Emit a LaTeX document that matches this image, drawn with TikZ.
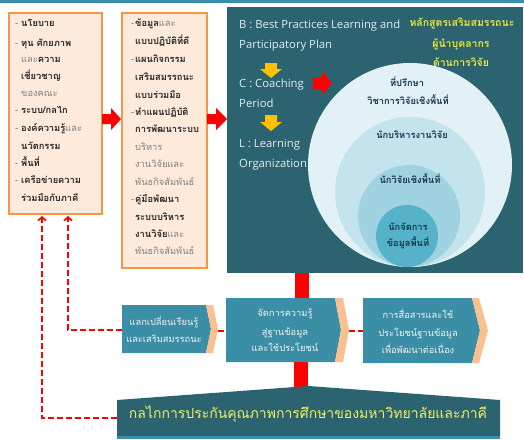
\documentclass[tikz,border=0pt]{standalone}
\usepackage{fontspec}
\setmainfont{Open Sans}
\newfontfamily\thai[Script=Thai]{Loma}
\usetikzlibrary{arrows.meta}
\definecolor{panelc}{HTML}{2B6370}
\definecolor{chevc}{HTML}{3A8EA5}
\definecolor{peach}{HTML}{FAC090}
\definecolor{boxfill}{HTML}{FDEADA}
\definecolor{boxline}{HTML}{F79646}
\definecolor{dk}{HTML}{262626}
\definecolor{lt}{HTML}{808080}
\definecolor{ylw}{HTML}{E8E83A}
\definecolor{ylwb}{HTML}{F2F25C}
\definecolor{latc}{HTML}{E4ECEE}
\definecolor{arry}{HTML}{FFC000}
\definecolor{cira}{HTML}{E2F1F5}
\definecolor{cirb}{HTML}{C3E4ED}
\definecolor{circ}{HTML}{9FD3E1}
\definecolor{cird}{HTML}{55B2C9}
\definecolor{navy}{HTML}{1B3550}
\definecolor{chtxt}{HTML}{F2F2F2}
\newcommand\dkt[1]{{\bfseries\color{dk}#1}}
\newcommand\ltt[1]{{\color{lt}#1}}
\newcommand\dsh[1]{\makebox[#1pt][l]{\ltt{-}}}
\begin{document}
\begin{tikzpicture}[x=1pt,y=-1pt,
  thl/.style={anchor=base west,inner sep=0,font=\thai\fontsize{9.3}{11}\selectfont},
  lat/.style={anchor=base west,inner sep=0,text=latc,font=\fontsize{11.3}{13}\selectfont},
  ylt/.style={anchor=base,inner sep=0,text=ylw,font=\thai\bfseries\fontsize{10.5}{12}\selectfont},
  cit/.style={anchor=base,inner sep=0,text=navy,font=\thai\bfseries\fontsize{9.3}{11}\selectfont},
  cht/.style={anchor=base,inner sep=0,text=chtxt,font=\thai\fontsize{9.3}{11}\selectfont},
  pbox/.style={draw=boxline,fill=boxfill,line width=1.6pt,anchor=north west,inner sep=0},
  circ/.style={circle,inner sep=0},
  dashr/.style={draw=red,line width=1.7pt,dash pattern=on 6pt off 3pt},
  redbar/.style={draw=red,line width=14pt}]
\useasboundingbox (0,0) rectangle (524,439);
\fill[chevc] (0,0) rectangle (524,3);

% boxes
\node[pbox,minimum width=93,minimum height=201] (L) at (8,12) {};
\node[pbox,minimum width=85,minimum height=255] (M) at (121,12) {};
\node[fill=panelc,anchor=north west,inner sep=0,minimum width=296,minimum height=266] (P) at (227,7) {};

% left box text
\node[thl] (l1) at (15,27) {\dsh{6}\dkt{นโยบาย}};
\node[thl] (l2) at (15,46) {\dsh{6}\dkt{ทุน ศักยภาพ}};
\node[thl] (l3) at (21,62) {\ltt{และ}\dkt{ความ}};
\node[thl] (l4) at (21,79) {\dkt{เชี่ยวชาญ}};
\node[thl] (l5) at (21,96) {\ltt{ของคณะ}};
\node[thl] (l6) at (15,113) {\dsh{6}\dkt{ระบบ/กลไก}};
\node[thl] (l7) at (15,131) {\dsh{6}\dkt{องค์ความรู้}\ltt{และ}};
\node[thl] (l8) at (21,149) {\dkt{นวัตกรรม}};
\node[thl] (l9) at (15,166) {\dsh{6}\dkt{พื้นที่}};
\node[thl] (l10) at (15,183) {\dsh{6}\dkt{เครือข่ายความ}};
\node[thl] (l11) at (21,201) {\dkt{ร่วมมือกับภาคี}};

% middle box text
\node[thl] (m1) at (131,27) {\dsh{4}\dkt{ข้อมูล}\ltt{และ}};
\node[thl] (m2) at (135,44) {\dkt{แบบปฏิบัติที่ดี}};
\node[thl] (m3) at (131,62) {\dsh{4}\dkt{แผนกิจกรรม}};
\node[thl] (m4) at (135,80) {\dkt{เสริมสมรรถนะ}};
\node[thl] (m5) at (135,98) {\dkt{แบบร่วมมือ}};
\node[thl] (m6) at (131,115) {\dsh{4}\dkt{ทำแผนปฏิบัติ}};
\node[thl] (m7) at (135,132) {\dkt{การพัฒนาระบบ}};
\node[thl] (m8) at (135,150) {\ltt{บริหาร}};
\node[thl] (m9) at (135,167) {\ltt{งานวิจัยและ}};
\node[thl] (m10) at (135,185) {\ltt{พันธกิจสัมพันธ์}};
\node[thl] (m11) at (131,202) {\dsh{4}\dkt{คู่มือพัฒนา}};
\node[thl] (m12) at (135,220) {\dkt{ระบบบริหาร}};
\node[thl] (m13) at (135,237) {\dkt{งานวิจัย}\ltt{และ}};
\node[thl] (m14) at (135,254) {\ltt{พันธกิจสัมพันธ์}};

% red block arrows between boxes
\fill[red] (102,114) -- (111,114) -- (111,108) -- (121,119) -- (111,130) -- (111,124) -- (102,124) -- cycle;
\fill[red] (207,114) -- (216,114) -- (216,108) -- (227,119) -- (216,130) -- (216,124) -- (207,124) -- cycle;

% panel texts
\node[lat] (b1) at (239,28) {B : Best Practices Learning and};
\node[lat] (b2) at (239,48) {Participatory Plan};
\node[lat] (c1t) at (239,87) {C : Coaching};
\node[lat] (c2t) at (239,107) {Period};
\node[lat] (e1) at (239,147) {L : Learning};
\node[lat] (e2) at (239,167) {Organization};
\fill[arry] (265,63) -- (277,63) -- (277,69) -- (282,69) -- (271,78) -- (260,69) -- (265,69) -- cycle;
\fill[arry] (265,115) -- (277,115) -- (277,122) -- (282,122) -- (271,131) -- (260,122) -- (265,122) -- cycle;
\node[ylt] (y1) at (462,27) {หลักสูตรเสริมสมรรถนะ};
\node[ylt] (y2) at (461,47) {ผู้นำบุคลากร};
\node[ylt] (y3) at (461,66) {ด้านการวิจัย};
\fill[red] (313,77) -- (322,77) -- (322,71) -- (332,83) -- (322,95) -- (322,89) -- (313,89) -- cycle;

% nested circles tangent at the bottom
\node[circ,fill=cira,minimum size=204] (o1) at (410,165) {};
\node[circ,fill=cirb,minimum size=150] (o2) at (410,192) {};
\node[circ,fill=circ,minimum size=102] (o3) at (409,216) {};
\node[circ,fill=cird,minimum size=62] (o4) at (407,236) {};
\node[cit] (k1) at (407,86) {ที่ปรึกษา};
\node[cit] (k2) at (408,104) {วิชาการวิจัยเชิงพื้นที่};
\node[cit] (k3) at (412,138) {นักบริหารงานวิจัย};
\node[cit] (k4) at (410,183) {นักวิจัยเชิงพื้นที่};
\node[cit] (k5) at (408,230) {นักจัดการ};
\node[cit] (k6) at (408,246) {ข้อมูลพื้นที่};

% chevrons
\fill[chevc] (122,305) -- (206,305) -- (211,329) -- (206,353) -- (122,353) -- cycle;
\fill[peach] (206,305) -- (213,305) -- (218,329) -- (213,353) -- (206,353) -- (211,329) -- cycle;
\fill[chevc] (226,298) -- (335,298) -- (341,330) -- (335,362) -- (226,362) -- cycle;
\fill[peach] (335,298) -- (343,298) -- (349,330) -- (343,362) -- (335,362) -- (341,330) -- cycle;
\fill[chevc] (363,298) -- (472,298) -- (480,330.5) -- (472,363) -- (363,363) -- cycle;
\fill[peach] (472,298) -- (479,298) -- (488,330.5) -- (479,363) -- (472,363) -- (480,330.5) -- cycle;
\coordinate (c1w) at (122,330);
\coordinate (c1e) at (218,331);
\coordinate (c2w) at (226,331);
\coordinate (c2e) at (349,331);
\coordinate (c3w) at (363,331);
\coordinate (c2n) at (302,298);
\coordinate (c2s) at (300.5,362);
\node[cht] (h1) at (164,325) {แลกเปลี่ยนเรียนรู้};
\node[cht] (h2) at (164,342) {และเสริมสมรรถนะ};
\node[cht] (h3) at (285,316) {จัดการความรู้};
\node[cht] (h4) at (285,335) {สู่ฐานข้อมูล};
\node[cht] (h5) at (285,351) {และใช้ประโยชน์};
\node[cht] (h6) at (418,318) {การสื่อสารและใช้};
\node[cht] (h7) at (418,336) {ประโยชน์ฐานข้อมูล};
\node[cht] (h8) at (418,353) {เพื่อพัฒนาต่อเนื่อง};

% red bars
\draw[redbar] (c2n |- P.south) -- (c2n);
\coordinate (bp) at (300.5,392);
\draw[redbar] (c2s) -- (bp);

% bottom pentagon
\fill[panelc] (117,400) -- (308.5,386) -- (500,400) -- (500,436) -- (117,436) -- cycle;
\fill[chevc] (117,436) rectangle (500,439);
\coordinate (bw) at (117,418);
\node[anchor=base,inner sep=0,text=ylwb,font=\thai\fontsize{14}{16}\selectfont] (bt) at (308,418) {กลไกการประกันคุณภาพการศึกษาของมหาวิทยาลัยและภาคี};

% dashed connectors
\coordinate (ua) at (68,216);
\coordinate (ub) at (42,216);
\draw[dashr,-{Straight Barb[length=3.5pt,width=8pt]}] (c1w) -| (ua);
\draw[dashr,-{Straight Barb[length=3.5pt,width=8pt]}] (bw) -| (ub);
\draw[dashr] (c1e) -- (c2w);
\draw[dashr] (c2e) -- (c3w);
\end{tikzpicture}
\end{document}
